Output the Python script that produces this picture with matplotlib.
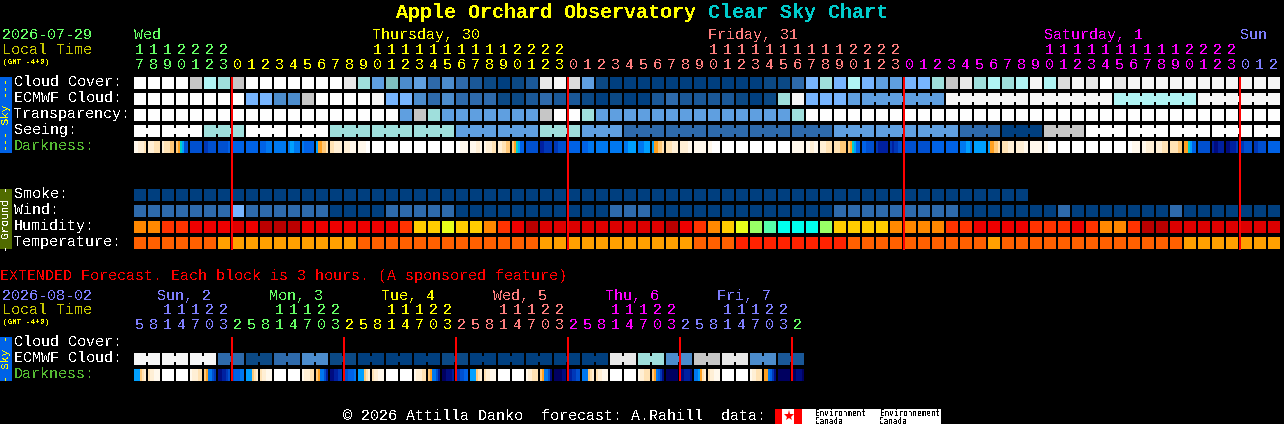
#!/usr/bin/env python3
# Clear Sky Chart, every block is one colour code, positions in pixels
import numpy as np
import matplotlib
matplotlib.use('Agg')
import matplotlib.pyplot as plt

# colour tables
cloud_colors = ['#fefefe', '#f6f6f6', '#e8e8e8', '#dcdcdc', '#c6c6c6', '#b0f4f4', '#9fdfdc', '#7fbfbf',
                '#77b5fe', '#5f9fe0', '#4c8ccc', '#2e6aab', '#1a5898', '#0b4985', '#003f7f']
dark_colors = ['#ffffff', '#fff8ec', '#ffefd5', '#ffe2b4', '#ffc878', '#ffa020', '#00d0c8', '#00a0ff',
               '#0078f0', '#0062e6', '#0050d0', '#0038b8', '#0020a0', '#000c80', '#000060']
humid_colors = {'o': '#ff8800', 'y': '#ffcc00', 'l': '#e8ff1a', 'g': '#99ff66', 's': '#55ffaa',
                'c': '#00ffee', 'f': '#ff3300', 'e': '#ee0000', 'd': '#dd0000', 'b': '#bb0000'}
temp_colors = {'o': '#ff6000', 'a': '#ffa000', 'r': '#ff2200'}

# hourly chart
hours = [17, 18, 19, 20, 21, 22, 23] + list(range(24)) * 3 + [0, 1, 2]
hour_colors = ['#66ff66'] * 7 + ['#ffff00'] * 24 + ['#ff7f7f'] * 24 + ['#ff00ff'] * 24 + ['#7f7fff'] * 3
day_names = ['Wed', 'Thursday, 30', 'Friday, 31', 'Saturday, 1', 'Sun']
day_blocks = [0, 17, 41, 65, 79]
day_colors = ['#66ff66', '#ffff00', '#ff7f7f', '#ff00ff', '#7f7fff']

cloud_cover = [0, 0, 0, 0, 4, 5, 6, 4, 0, 0, 0, 0, 0, 0, 0, 2, 6, 9, 7, 10, 9,
               11, 10, 11, 12, 13, 14, 13, 12, 2, 1, 3, 9, 13, 14, 14, 14, 14, 14, 14, 14, 14, 14, 14, 14,
               13, 13, 11, 8, 6, 8, 5, 8, 9, 9, 8, 8, 6, 4, 2, 6, 5, 6, 5, 1, 5, 3, 1, 2, 0, 2, 1,
               1, 1, 1, 1, 1, 1, 1, 1, 1, 1]
ecmwf_hourly = [0, 0, 0, 0, 0, 0, 0, 0, 8, 8, 10, 10, 4, 0, 0, 0, 0, 1, 8, 8, 10,
                11, 10, 11, 11, 11, 13, 13, 12, 11, 12, 12, 13, 14, 13, 14, 14, 12, 11, 12, 12, 12, 12, 13, 14, 13,
                6, 1, 8, 8, 8, 9]
ecmwf_six_hourly = [9, 1, 1, 5, 1]
ecmwf_groups = [1] * 52 + [6] * 5
transparency = [0] * 19 + [9, 4, 6] + [9] * 7 + [4, 0, 0, 6] + [9] * 14 + [6] + [0] * 34
seeing = [0, 0, 6, 0, 0, 6, 6, 6, 9, 9, 6, 9, 11, 11, 11, 11, 11, 9, 9, 9, 11, 14, 4, 0, 0, 0, 0, 0]
seeing_groups = [2] + [3] * 26 + [2]

# six columns of darkness inside one block
darkness = [[1, 1, 2, 2, 2, 3], [2, 2, 2, 3, 3, 3], [2, 3, 3, 3, 4, 4], [4, 5, 6, 7, 10, 10],
            [10, 10, 10, 10, 10, 10], [11, 11, 10, 10, 10, 10], [10, 10, 10, 10, 10, 9], [9, 9, 9, 9, 9, 9],
            [9, 9, 9, 9, 9, 9], [9, 9, 9, 8, 8, 8], [8, 8, 8, 8, 8, 8], [8, 7, 7, 8, 8, 8],
            [8, 9, 9, 9, 9, 9], [7, 5, 5, 4, 4, 3], [3, 3, 2, 2, 2, 2], [2, 2, 2, 1, 1, 1],
            [1, 1, 1, 1, 0, 0], [0, 0, 0, 0, 0, 0], [0, 0, 0, 0, 0, 0], [0, 0, 0, 0, 0, 0],
            [0, 0, 0, 0, 0, 0], [0, 0, 0, 0, 0, 0], [0, 0, 0, 0, 0, 0], [0, 0, 1, 1, 1, 1],
            [1, 1, 1, 2, 2, 1], [1, 2, 2, 2, 3, 3], [2, 2, 3, 3, 4, 4], [4, 5, 6, 7, 9, 9],
            [10, 10, 10, 10, 10, 10], [12, 12, 11, 11, 11, 11], [11, 11, 10, 10, 10, 10], [9, 9, 9, 9, 9, 9],
            [9, 9, 9, 8, 8, 8], [8, 8, 8, 8, 8, 8], [8, 8, 8, 8, 8, 8], [8, 8, 7, 7, 7, 7],
            [8, 8, 8, 7, 7, 7], [7, 5, 5, 4, 4, 3], [3, 3, 3, 2, 2, 2], [2, 2, 2, 2, 1, 1],
            [1, 1, 1, 1, 1, 1], [1, 1, 0, 0, 0, 0], [0, 0, 0, 0, 0, 0], [0, 0, 0, 0, 0, 0],
            [0, 0, 0, 0, 0, 0], [0, 0, 0, 0, 0, 0], [0, 0, 0, 0, 0, 0], [1, 1, 1, 1, 1, 1],
            [1, 1, 2, 2, 1, 1], [2, 2, 2, 3, 3, 3], [3, 3, 3, 4, 4, 4], [4, 5, 6, 7, 9, 9],
            [9, 9, 10, 10, 10, 10], [11, 12, 12, 12, 12, 12], [11, 12, 11, 11, 10, 10], [10, 10, 10, 10, 10, 10],
            [10, 10, 10, 10, 10, 10], [9, 9, 9, 9, 9, 9], [9, 9, 9, 9, 9, 9], [8, 8, 8, 7, 7, 8],
            [7, 7, 7, 7, 7, 7], [7, 5, 5, 4, 4, 3], [3, 3, 3, 2, 2, 2], [2, 2, 2, 2, 1, 1],
            [1, 1, 1, 1, 1, 1], [1, 1, 0, 0, 0, 0], [0, 0, 0, 0, 0, 0], [0, 0, 0, 0, 0, 0],
            [0, 0, 0, 0, 0, 0], [0, 0, 0, 0, 0, 0], [0, 0, 0, 0, 0, 0], [0, 0, 1, 1, 1, 1],
            [1, 1, 2, 2, 2, 2], [2, 2, 2, 3, 3, 3], [3, 3, 3, 3, 4, 4], [5, 5, 6, 7, 9, 9],
            [10, 10, 10, 10, 10, 10], [12, 13, 13, 12, 12, 12], [13, 13, 12, 12, 12, 11], [11, 11, 10, 10, 10, 10],
            [11, 11, 10, 10, 10, 10], [9, 9, 9, 9, 9, 9]]

smoke = [14] * 64
wind = [11] * 7 + [8] + [11] * 6 + [14] * 4 + [11] * 5 + [14] * 11 + [11] * 3 + [14] * 13 + [11] * 9 \
    + [14] * 7 + [11] + [14] * 7 + [11] + [14] * 7
humidity = ['o', 'o', 'f', 'f', 'e', 'e', 'e', 'd', 'e', 'b', 'b', 'b', 'e', 'e', 'e', 'e', 'e', 'e', 'e', 'f', 'y',
            'y', 'l', 'y', 'y', 'o', 'f', 'e', 'b', 'd', 'd', 'd', 'd', 'd', 'd', 'd', 'd', 'd', 'b', 'e', 'f',
            'o', 'y', 'l', 'g', 's', 'c', 'c', 'c', 'g', 'y', 'y', 'y', 'y', 'o', 'o', 'o', 'o', 'f', 'f',
            'e', 'e', 'e', 'e', 'f', 'f', 'f', 'e', 'f', 'o', 'o', 'f', 'b', 'b', 'd', 'd', 'd', 'd', 'd', 'd', 'd', 'd']
temperature = ['o'] * 6 + ['a'] * 10 + ['o'] * 13 + ['a'] * 11 + ['o'] * 3 + ['r'] * 8 + ['o'] * 10 + ['a'] \
    + ['o'] * 13 + ['a'] * 7

# extended chart
ext_hours = [5, 8, 11, 14, 17, 20, 23] + [2, 5, 8, 11, 14, 17, 20, 23] * 5 + [2]
ext_hour_colors = ['#7f7fff'] * 7 + ['#66ff66'] * 8 + ['#ffff00'] * 8 + ['#ff7f7f'] * 8 + ['#ff00ff'] * 8 \
    + ['#7f7fff'] * 8 + ['#66ff66']
ext_day_names = ['Sun, 2', 'Mon, 3', 'Tue, 4', 'Wed, 5', 'Thu, 6', 'Fri, 7']
ext_day_x = [157, 269, 381, 493, 605, 717]
ext_day_colors = ['#7f7fff', '#66ff66', '#ffff00', '#ff7f7f', '#ff00ff', '#7f7fff']
ext_ecmwf = [1, 1, 1, 11, 13, 11, 10, 13, 14, 14, 14, 13, 14, 14, 14, 14, 14, 2, 6, 10, 4, 2, 10, 12]
ext_groups = [2] * 24
ext_darkness = [[7, 7, 7, 4, 3, 2], [3, 2, 2, 1, 1, 1], [0, 0, 0, 0, 0, 0], [0, 0, 0, 0, 0, 0],
                [1, 2, 2, 2, 3, 3], [4, 5, 8, 8, 10, 11], [13, 13, 12, 12, 11, 10], [10, 9, 9, 9, 8, 8],
                [7, 7, 7, 4, 3, 2], [3, 2, 2, 1, 1, 1], [0, 0, 0, 0, 0, 0], [0, 0, 0, 0, 0, 0],
                [1, 2, 2, 2, 3, 3], [4, 5, 8, 8, 10, 12], [13, 13, 12, 12, 11, 11], [10, 10, 9, 9, 9, 8],
                [7, 7, 7, 4, 3, 2], [3, 2, 2, 1, 1, 1], [0, 0, 0, 0, 0, 0], [0, 0, 0, 0, 0, 0],
                [1, 2, 2, 2, 3, 3], [4, 5, 8, 8, 10, 12], [14, 14, 13, 13, 13, 12], [11, 11, 10, 10, 9, 9],
                [7, 7, 7, 4, 3, 2], [3, 2, 2, 1, 1, 1], [0, 0, 0, 0, 0, 0], [0, 0, 0, 0, 0, 0],
                [1, 2, 2, 3, 3, 3], [4, 5, 8, 8, 10, 13], [14, 14, 14, 14, 13, 13], [12, 12, 11, 11, 10, 10],
                [8, 8, 8, 4, 3, 2], [3, 2, 2, 1, 1, 1], [0, 0, 0, 0, 0, 0], [0, 0, 0, 0, 0, 0],
                [1, 2, 2, 3, 3, 3], [4, 5, 8, 9, 11, 13], [14, 14, 14, 14, 14, 14], [13, 13, 12, 12, 12, 13],
                [8, 8, 7, 5, 3, 2], [3, 2, 2, 1, 1, 1], [0, 0, 0, 0, 0, 0], [0, 0, 0, 0, 0, 0],
                [1, 2, 2, 3, 3, 3], [5, 5, 8, 9, 11, 13], [14, 14, 14, 14, 14, 14], [14, 14, 13, 13, 13, 14]]

plt.rcParams['font.family'] = 'Liberation Mono'
plt.rcParams['text.antialiased'] = False

fig = plt.figure(figsize=(12.84, 4.24), dpi=100, facecolor='black')
ax = fig.add_axes([0, 0, 1, 1])
ax.set_xlim(0, 1284)
ax.set_ylim(424, 0)
ax.axis('off')

LEFT = 134
STEP = 14
SIZE = 12
TXT = 10.8


def put(x, y, s, color='white', size=TXT, **kw):
    # text baseline sits a little lower than matplotlib's centre
    ax.text(x, y + 1, s, color=color, fontsize=size, va='center', **kw)


def block_row(values, top, colors):
    x = LEFT + STEP * np.arange(len(values))
    ax.bar(x, SIZE, width=SIZE, bottom=top, align='edge', linewidth=0, antialiased=False,
           color=[colors[v] for v in values])


def joins(groups, top, values, colors):
    # little bridge between the blocks of one group
    i = 0
    for n in groups:
        for k in range(n - 1):
            ax.bar(LEFT + STEP * (i + k) + SIZE, 6, width=STEP - SIZE, bottom=top + 3, align='edge',
                   linewidth=0, antialiased=False, color=colors[values[i + k]])
        i += n


def dark_row(rows, top):
    for i, cols in enumerate(rows):
        x = LEFT + STEP * i + 2 * np.arange(6)
        ax.bar(x, SIZE, width=2, bottom=top, align='edge', linewidth=0, antialiased=False,
               color=[dark_colors[c] for c in cols])


def hour_labels(hh, cc, y_tens, y_ones):
    for i, h in enumerate(hh):
        xc = LEFT + STEP * i + 5.5
        if h >= 10:
            put(xc, y_tens, str(h // 10), cc[i], ha='center')
        put(xc, y_ones, str(h % 10), cc[i], ha='center')


# title
put(396, 11, 'Apple Orchard Observatory', '#ffff00', 14.4, fontweight='bold')
put(708, 11, 'Clear Sky Chart', '#00cccc', 14.4, fontweight='bold')

# header of hourly chart
put(2, 34, '2026-07-29', '#66ff66')
put(2, 49, 'Local Time', '#c8c800')
put(3, 61, '(GMT -4+0)', '#ffff00', 5.5)
for name, b, c in zip(day_names, day_blocks, day_colors):
    put(LEFT + STEP * b, 34, name, c)
hour_labels(hours, hour_colors, 49, 64)

# side bars
ax.bar(0, 76, width=12, bottom=77, align='edge', linewidth=0, color='#0062e6')
ax.text(6, 115, '--- Sky ---', color='#ffff00', fontsize=8, rotation=90, ha='center', va='center')
ax.bar(0, 60, width=12, bottom=189, align='edge', linewidth=0, color='#506b00')
ax.text(6, 219, '- Ground -', color='white', fontsize=8, rotation=90, ha='center', va='center')
ax.bar(0, 44, width=12, bottom=337, align='edge', linewidth=0, color='#0062e6')
ax.text(6, 359, '- Sky -', color='#ffff00', fontsize=8, rotation=90, ha='center', va='center')

# sky rows
ecmwf = ecmwf_hourly + list(np.repeat(ecmwf_six_hourly, 6))
seeing_all = list(np.repeat(seeing, seeing_groups))
block_row(cloud_cover, 77, cloud_colors)
block_row(ecmwf, 93, cloud_colors)
joins(ecmwf_groups, 93, ecmwf, cloud_colors)
block_row(transparency, 109, cloud_colors)
block_row(seeing_all, 125, cloud_colors)
joins(seeing_groups, 125, seeing_all, cloud_colors)
dark_row(darkness, 141)
put(14, 81, 'Cloud Cover:')
put(14, 97, 'ECMWF Cloud:')
put(14, 113, 'Transparency:')
put(14, 129, 'Seeing:')
put(14, 145, 'Darkness:', '#55bb33')

# ground rows
block_row(smoke, 189, cloud_colors)
block_row(wind, 205, cloud_colors)
block_row(humidity, 221, humid_colors)
block_row(temperature, 237, temp_colors)
put(14, 193, 'Smoke:')
put(14, 209, 'Wind:')
put(14, 225, 'Humidity:')
put(14, 241, 'Temperature:')

for x in [232, 568, 904, 1240]:
    ax.plot([x, x], [77, 250], color='#ff0000', linewidth=1.44, antialiased=False, solid_capstyle='butt')

# extended forecast
put(0, 275, 'EXTENDED Forecast. Each block is 3 hours. (A sponsored feature)', '#ff0000')
put(2, 295, '2026-08-02', '#7f7fff')
put(2, 309, 'Local Time', '#c8c800')
put(3, 321, '(GMT -4+0)', '#ffff00', 5.5)
for name, x, c in zip(ext_day_names, ext_day_x, ext_day_colors):
    put(x, 295, name, c)
hour_labels(ext_hours, ext_hour_colors, 309, 324)

ext_all = list(np.repeat(ext_ecmwf, ext_groups))
block_row(ext_all, 353, cloud_colors)
joins(ext_groups, 353, ext_all, cloud_colors)
dark_row(ext_darkness, 369)
put(14, 341, 'Cloud Cover:')
put(14, 357, 'ECMWF Cloud:')
put(14, 373, 'Darkness:', '#55bb33')

for x in [232, 344, 456, 568, 680, 792]:
    ax.plot([x, x], [337, 381], color='#ff0000', linewidth=1.44, antialiased=False, solid_capstyle='butt')

# footer with the logo
put(343, 415, '\u00a9 2026 Attilla Danko  forecast: A.Rahill  data:')
ax.bar(775, 15, width=166, bottom=409, align='edge', linewidth=0, color='white')
ax.bar([775, 794], 15, width=[7, 8], bottom=409, align='edge', linewidth=0, color='#ff0000')
ax.plot([788.5], [416], marker='*', markersize=8, color='#ff0000', markeredgewidth=0)
for x, s in [(815, 'Environment'), (880, 'Environnement')]:
    put(x, 412.5, s, 'black', 5.5, family='DejaVu Sans Mono')
    put(x, 420, 'Canada', 'black', 5.5, family='DejaVu Sans Mono')

fig.savefig('out.png', dpi=100, facecolor='black')
